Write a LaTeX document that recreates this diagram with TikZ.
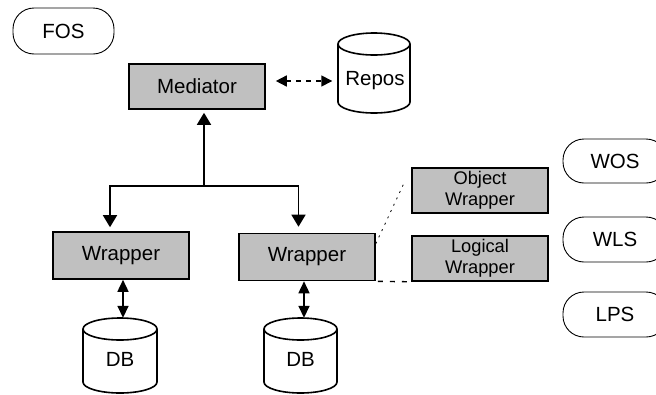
\documentclass[tikz,border=0pt]{standalone}
\usepackage{fontspec}
\setmainfont{Liberation Sans}
\usetikzlibrary{arrows.meta}
\definecolor{boxgray}{HTML}{C0C0C0}
\begin{document}
\begin{tikzpicture}[x=1pt,y=-1pt,
  box/.style={draw, line width=1.6pt, fill=boxgray, inner sep=0pt,
    minimum width=136pt, minimum height=46pt, font=\fontsize{20.5}{24}\selectfont},
  smallbox/.style={box, minimum height=45pt, align=center, font=\fontsize{18.3}{20.7}\selectfont},
  oval/.style={draw, line width=0.9pt, rounded corners=21pt, inner sep=0pt,
    minimum height=45pt, font=\fontsize{20.5}{24}\selectfont},
  cyltxt/.style={inner sep=0pt, minimum width=73pt, font=\fontsize{20.5}{24}\selectfont},
  cylline/.style={line width=1.6pt},
  link/.style={line width=1.6pt},
  arr/.style={link, -{Triangle[length=12pt,width=14pt]}},
  dbl/.style={link, {Triangle[length=12pt,width=11pt]}-{Triangle[length=12pt,width=11pt]}},
  dasharr/.style={line width=1.5pt, dash pattern=on 5pt off 5pt,
    {Triangle[length=11pt,width=11pt]}-{Triangle[length=11pt,width=11pt]}},
]
\useasboundingbox (0,0) rectangle (656,394);
\clip (0,0) rectangle (656,394);

% ovals
\node[oval, minimum width=101pt, minimum height=46pt] (fos) at (63.5,31) {FOS};
\node[oval, minimum width=104pt, minimum height=44pt] (wos) at (615,161) {WOS};
\node[oval, minimum width=104pt, minimum height=45pt] (wls) at (615,239.5) {WLS};
\node[oval, minimum width=104pt, minimum height=45pt] (lps) at (615,314.5) {LPS};

% boxes
\node[box, minimum height=45pt] (med) at (197,86.5) {Mediator};
\node[box, minimum height=47pt] (w1) at (121,255.5) {Wrapper};
\node[box, minimum height=47pt] (w2) at (307,257) {Wrapper};
\node[smallbox] (ow) at (480,190.5) {Object\\Wrapper};
\node[smallbox] (lw) at (480,258.5) {Logical\\Wrapper};

% cylinders
% Repos: center x 374, half width 36, top ellipse centre 44, bottom ellipse centre 102
\draw[cylline, fill=white] (338,44) -- (338,102)
  arc[start angle=180, end angle=360, x radius=36pt, y radius=11pt] -- (410,44)
  arc[start angle=0, end angle=180, x radius=36pt, y radius=11pt] -- cycle;
\draw[cylline] (338,44) arc[start angle=180, end angle=360, x radius=36pt, y radius=11pt];
\node[cyltxt, minimum height=96pt] (repos) at (375,81) {Repos};

% DB left: center x 120, half width 37
\draw[cylline, fill=white] (83,329) -- (83,382)
  arc[start angle=180, end angle=360, x radius=37pt, y radius=11pt] -- (157,329)
  arc[start angle=0, end angle=180, x radius=37pt, y radius=11pt] -- cycle;
\draw[cylline] (83,329) arc[start angle=180, end angle=360, x radius=37pt, y radius=11pt];
\node[cyltxt, minimum height=83pt] (db1) at (120,359.5) {DB};

% DB right: center x 300.5
\draw[cylline, fill=white] (264,329) -- (264,382)
  arc[start angle=180, end angle=360, x radius=36.5pt, y radius=11pt] -- (337,329)
  arc[start angle=0, end angle=180, x radius=36.5pt, y radius=11pt] -- cycle;
\draw[cylline] (264,329) arc[start angle=180, end angle=360, x radius=36.5pt, y radius=11pt];
\node[cyltxt, minimum height=83pt] (db2) at (300.5,359.5) {DB};

% tree connector
\coordinate (j) at (204,186);
\coordinate (jl) at (110,186);
\coordinate (jr) at (298.5,186);
\draw[arr, shorten >=3pt] (j) -- (j |- med.south);
\draw[link, line cap=rect] (jl) -- (jr);
\draw[arr, shorten >=4pt] (jl) -- (jl |- w1.north);
\draw[arr, shorten >=6pt] (jr) -- (jr |- w2.north);

% wrapper <-> DB
\coordinate (d1) at (123,0);
\coordinate (d2) at (304,0);
\draw[dbl] (d1 |- w1.south) -- (d1 |- db1.north);
\draw[dbl] (d2 |- w2.south) -- (d2 |- db2.north);

% mediator <-> repos
\draw[dasharr, shorten <=10pt, shorten >=6pt] (med.east |- repos.west) -- (repos.west);

% dotted / dashed links
\draw[line width=0.8pt, dash pattern=on 2pt off 5pt] ([yshift=-11pt]w2.north east) -- ([xshift=-6pt,yshift=10pt]ow.west);
\draw[line width=1.4pt, dash pattern=on 5pt off 7pt] ([xshift=2pt]w2.south east) -- (lw.south west);
\end{tikzpicture}
\end{document}
